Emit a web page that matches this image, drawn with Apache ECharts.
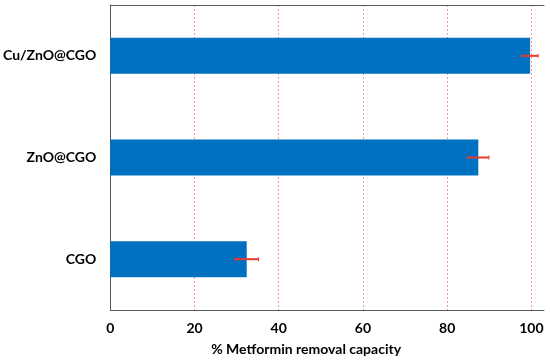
<!DOCTYPE html>
<html>
<head>
<meta charset="utf-8">
<script src="https://cdn.jsdelivr.net/npm/echarts@6/dist/echarts.min.js"></script>
<style>html,body{margin:0;padding:0;background:#fff;}#c{width:550px;height:363px;}</style>
</head>
<body>
<div id="c"></div>
<script>
var categories = ['CGO', 'ZnO@CGO', 'Cu/ZnO@CGO'];
var removal = [32.4, 87.4, 99.7];
var errors = [2.8, 2.5, 1.9];
var xTicks = [0, 20, 40, 60, 80, 100];

var errData = categories.map(function (c, i) {
  return [i, removal[i] - errors[i], removal[i] + errors[i]];
});

var font = 'Lato, "Open Sans", sans-serif';
var chart = echarts.init(document.getElementById('c'));
chart.setOption({
  animation: false,
  grid: { left: 109, right: 6, top: 5, bottom: 53 },
  xAxis: [{
    type: 'value', min: 0, max: 103, interval: 20,
    axisLine: { show: true, lineStyle: { color: '#595959', width: 1 } },
    axisTick: { show: false },
    axisLabel: {
      margin: 11, color: '#000', fontFamily: font, fontWeight: 'bold', fontSize: 14,
      formatter: function (v) { return xTicks.indexOf(v) >= 0 ? String(v) : ''; }
    },
    splitLine: { show: true, showMaxLine: false, lineStyle: { color: '#f29a9a', type: [2, 2], width: 1 } },
    name: '% Metformin removal capacity', nameLocation: 'middle', nameGap: 32,
    nameTextStyle: { color: '#000', fontFamily: font, fontWeight: 'bold', fontSize: 14, padding: [0, 42, 0, 0] }
  }, {
    type: 'value', position: 'top', min: 0, max: 103,
    axisLine: { show: true, lineStyle: { color: '#595959', width: 1 } },
    axisTick: { show: false }, axisLabel: { show: false }, splitLine: { show: false }
  }],
  yAxis: [{
    type: 'category', data: categories,
    axisLine: { show: true, lineStyle: { color: '#f3d0d0', width: 1 } },
    axisTick: { show: false },
    axisLabel: { margin: 14, color: '#000', fontFamily: font, fontWeight: 'bold', fontSize: 14 }
  }, {
    type: 'category', data: categories, position: 'right',
    axisLine: { show: true, lineStyle: { color: '#595959', width: 1 } },
    axisTick: { show: false }, axisLabel: { show: false }
  }],
  series: [{
    type: 'bar', data: removal, barWidth: 36,
    itemStyle: { color: '#0070c0' }
  }, {
    type: 'custom', data: errData,
    renderItem: function (params, api) {
      var c = api.value(0);
      var lo = api.coord([api.value(1), c]);
      var hi = api.coord([api.value(2), c]);
      var h = 2;
      var st = { stroke: '#e8392f', lineWidth: 2 };
      return {
        type: 'group',
        children: [
          { type: 'line', shape: { x1: lo[0], y1: lo[1], x2: hi[0], y2: hi[1] }, style: st },
          { type: 'line', shape: { x1: lo[0], y1: lo[1] - h, x2: lo[0], y2: lo[1] + h }, style: { stroke: '#e8392f', lineWidth: 1 } },
          { type: 'line', shape: { x1: hi[0], y1: hi[1] - h, x2: hi[0], y2: hi[1] + h }, style: { stroke: '#e8392f', lineWidth: 1 } }
        ]
      };
    },
    z: 5
  }]
});
</script>
</body>
</html>
